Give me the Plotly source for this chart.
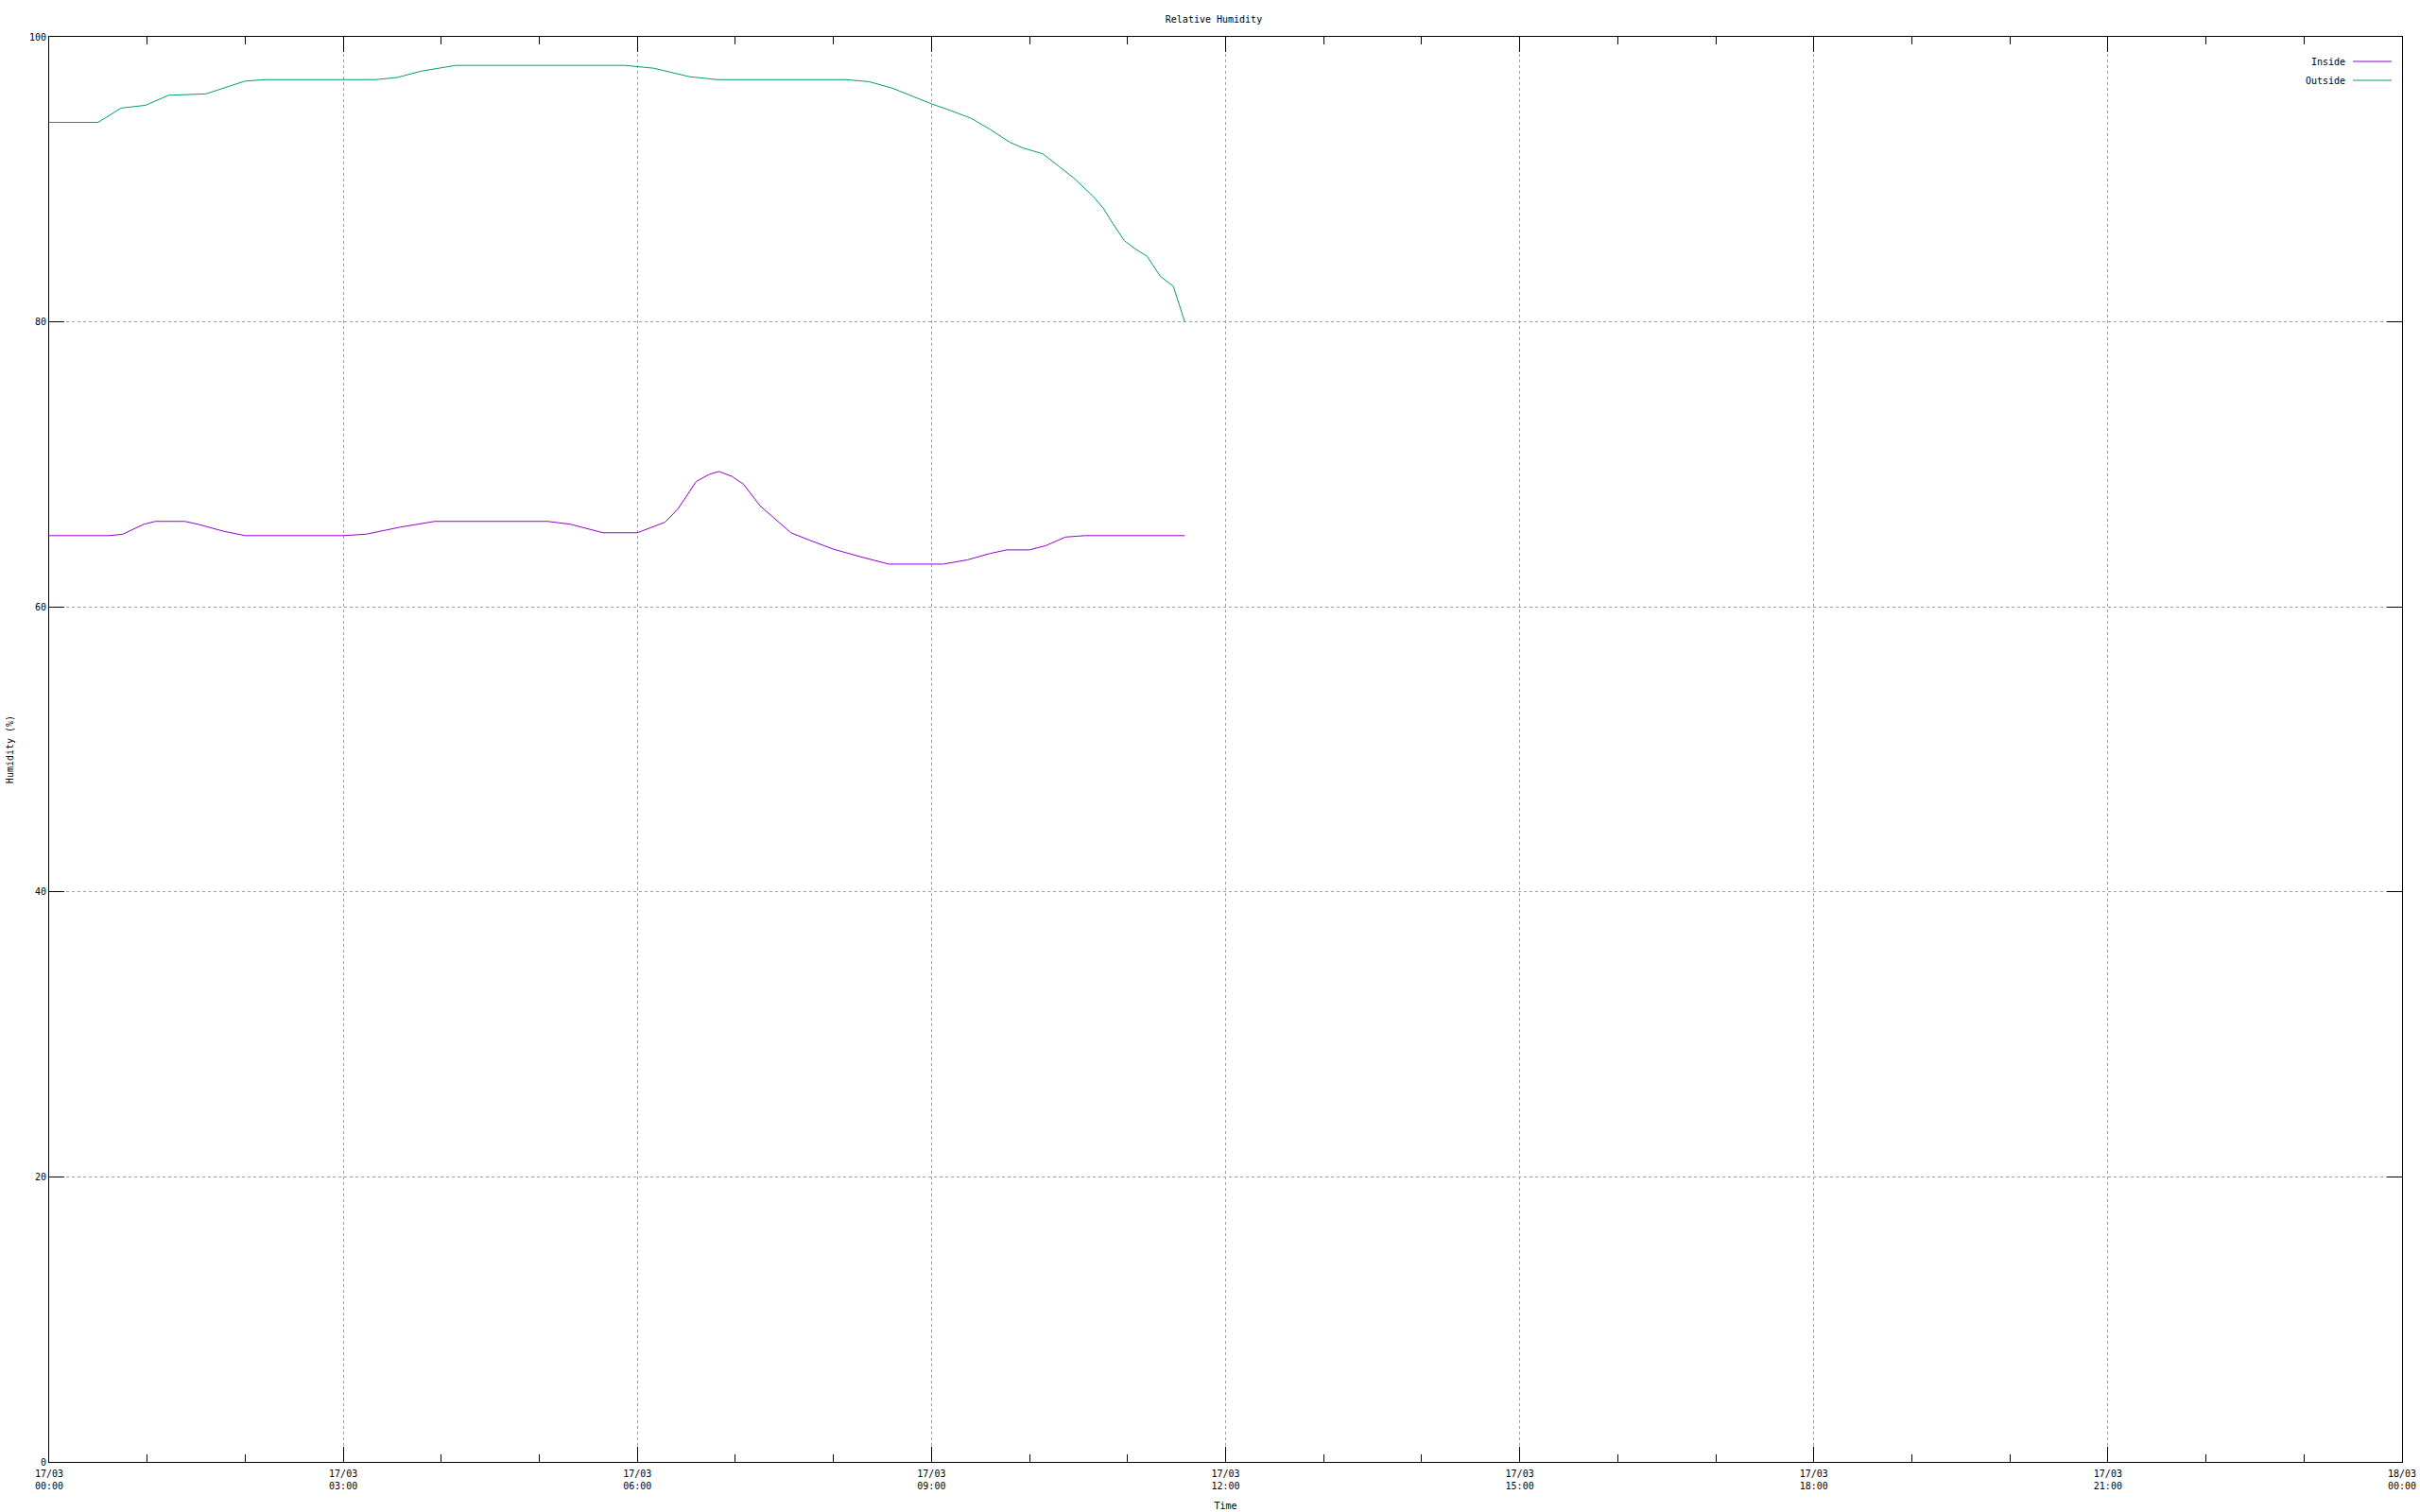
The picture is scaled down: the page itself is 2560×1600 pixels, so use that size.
import plotly.graph_objects as go

DAY = "2024-03-17"

inside_times = ["00:00", "00:37", "00:45", "00:58", "01:05", "01:23", "01:31", "01:47", "02:00",
                "03:00", "03:14", "03:35", "03:56", "05:05", "05:19", "05:39", "06:00", "06:17",
                "06:25", "06:36", "06:44", "06:50", "06:58", "07:05", "07:15", "07:22", "07:34",
                "07:46", "08:00", "08:17", "08:34", "09:07", "09:22", "09:36", "09:46", "10:00",
                "10:10", "10:22", "10:34", "11:35"]
inside_values = [65.0, 65.0, 65.1, 65.8, 66.0, 66.0, 65.8, 65.3, 65.0,
                 65.0, 65.1, 65.6, 66.0, 66.0, 65.8, 65.2, 65.2, 65.95,
                 66.9, 68.8, 69.3, 69.5, 69.15, 68.6, 67.1, 66.4, 65.2,
                 64.65, 64.05, 63.5, 63.0, 63.0, 63.3, 63.75, 64.0, 64.0,
                 64.3, 64.9, 65.0, 65.0]

outside_times = ["00:00", "00:30", "00:44", "00:59", "01:13", "01:36", "02:00", "02:13", "03:20",
                 "03:33", "03:48", "04:09", "05:52", "06:00", "06:10", "06:32", "06:49", "08:08",
                 "08:22", "08:36", "08:51", "09:00", "09:10", "09:24", "09:36", "09:48", "09:56",
                 "10:08", "10:17", "10:27", "10:39", "10:45", "10:51", "10:58", "11:05", "11:12",
                 "11:20", "11:28", "11:35"]
outside_values = [94.0, 94.0, 95.0, 95.2, 95.9, 96.0, 96.9, 97.0, 97.0,
                  97.15, 97.6, 98.0, 98.0, 97.9, 97.8, 97.2, 97.0, 97.0,
                  96.85, 96.4, 95.7, 95.3, 94.9, 94.3, 93.5, 92.6, 92.2,
                  91.8, 91.0, 90.1, 88.8, 88.0, 86.9, 85.7, 85.1, 84.6,
                  83.2, 82.5, 80.0]

series_names = ["Inside", "Outside"]
series_colors = ["#9400d3", "#009e73"]
y_ticks = [0, 20, 40, 60, 80, 100]

FONT = "DejaVu Sans Mono"

def ts(t):
    return f"{DAY} {t}"

fig = go.Figure()
for name, color, times, vals in [
    (series_names[0], series_colors[0], inside_times, inside_values),
    (series_names[1], series_colors[1], outside_times, outside_values),
]:
    fig.add_trace(go.Scatter(x=[ts(t) for t in times], y=vals, mode="lines", name=name,
                             line=dict(color=color, width=1), showlegend=False))

W, H = 2560, 1600
L, R, T, B = 52, 19, 39, 53
pw, ph = W - L - R, H - T - B

# custom gnuplot-style legend (text right, sample line on the right)
for i, (name, color) in enumerate(zip(series_names, series_colors)):
    ypix = 65 + 20 * i
    yp = 1 - (ypix - T) / ph
    x_text = (2483 - L) / pw
    fig.add_annotation(x=x_text, y=yp, xref="paper", yref="paper", text=name, showarrow=False,
                       xanchor="right", yanchor="middle", font=dict(family=FONT, size=10, color="black"))
    fig.add_shape(type="line", xref="paper", yref="paper", x0=(2489 - L) / pw, x1=(2530 - L) / pw,
                  y0=yp, y1=yp, line=dict(color=color, width=1.2))

fig.update_layout(
    width=W, height=H,
    margin=dict(l=L, r=R, t=T, b=B, pad=0, autoexpand=False),
    paper_bgcolor="white", plot_bgcolor="white",
    font=dict(family=FONT, size=10, color="black"),
    title=dict(text="Relative Humidity", x=(1284) / W, xanchor="center", y=1 - 20 / H, yanchor="middle",
               font=dict(family=FONT, size=10, color="black")),
    showlegend=False,
)
fig.update_xaxes(
    type="date", automargin=False,
    range=[f"{DAY} 00:00", "2024-03-18 00:00"],
    dtick=3 * 3600 * 1000, tick0=f"{DAY} 00:00",
    tickformat="%d/%m<br>%H:%M",
    ticks="inside", ticklen=16, tickcolor="black", tickwidth=1,
    showline=True, linecolor="black", linewidth=1, mirror="ticks",
    showgrid=True, gridcolor="#a0a0a0", griddash="dot", gridwidth=1,
    minor=dict(dtick=3600 * 1000, ticks="inside", ticklen=8, tickcolor="black", showgrid=False),
    title=dict(text="Time", standoff=12, font=dict(family=FONT, size=10)),
    tickfont=dict(family=FONT, size=10, color="black"),
    ticklabelstandoff=3,
    zeroline=False,
)
fig.update_yaxes(
    automargin=False,
    range=[0, 100], tickvals=y_ticks,
    ticks="inside", ticklen=16, tickcolor="black", tickwidth=1,
    showline=True, linecolor="black", linewidth=1, mirror="ticks",
    showgrid=True, gridcolor="#a0a0a0", griddash="dot", gridwidth=1,
    title=dict(text="Humidity (%)", standoff=14, font=dict(family=FONT, size=10)),
    tickfont=dict(family=FONT, size=10, color="black"),
    zeroline=False,
)

fig.write_html("out.html", config={"displayModeBar": False, "staticPlot": True},
               post_script="document.body.style.margin='0';document.body.style.overflow='hidden';")
